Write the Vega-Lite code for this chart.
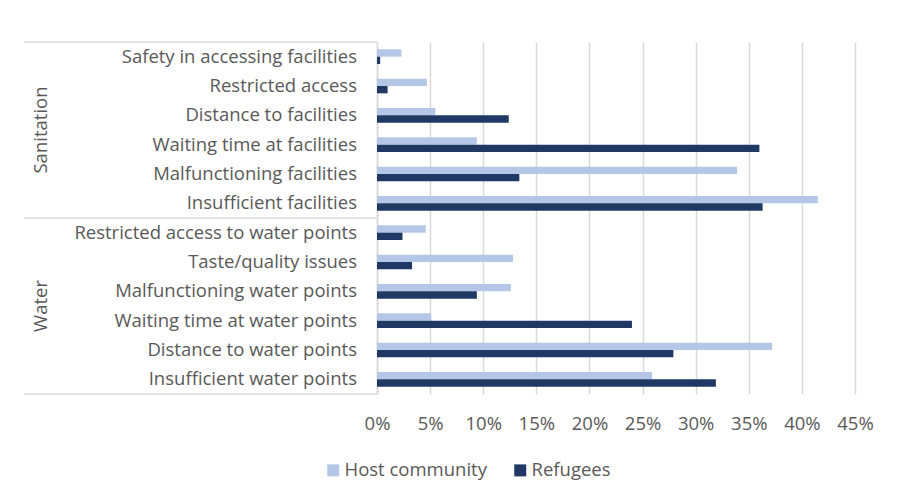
{
  "$schema": "https://vega.github.io/schema/vega-lite/v6.json",
  "padding": {"left": 23, "top": 41, "right": 0, "bottom": 0},
  "background": "white",
  "bounds": "flush",
  "spacing": 0,
  "config": {
    "font": "Open Sans",
    "view": {"stroke": null}
  },
  "datasets": {
    "bars": [
      {"group": "Sanitation", "category": "Safety in accessing facilities", "series": "Host community", "value": 0.023},
      {"group": "Sanitation", "category": "Safety in accessing facilities", "series": "Refugees", "value": 0.003},
      {"group": "Sanitation", "category": "Restricted access\u00a0", "series": "Host community", "value": 0.047},
      {"group": "Sanitation", "category": "Restricted access\u00a0", "series": "Refugees", "value": 0.010},
      {"group": "Sanitation", "category": "Distance to facilities", "series": "Host community", "value": 0.055},
      {"group": "Sanitation", "category": "Distance to facilities", "series": "Refugees", "value": 0.124},
      {"group": "Sanitation", "category": "Waiting time at facilities", "series": "Host community", "value": 0.094},
      {"group": "Sanitation", "category": "Waiting time at facilities", "series": "Refugees", "value": 0.360},
      {"group": "Sanitation", "category": "Malfunctioning facilities", "series": "Host community", "value": 0.339},
      {"group": "Sanitation", "category": "Malfunctioning facilities", "series": "Refugees", "value": 0.134},
      {"group": "Sanitation", "category": "Insufficient facilities", "series": "Host community", "value": 0.415},
      {"group": "Sanitation", "category": "Insufficient facilities", "series": "Refugees", "value": 0.363},
      {"group": "Water", "category": "Restricted access to water points", "series": "Host community", "value": 0.046},
      {"group": "Water", "category": "Restricted access to water points", "series": "Refugees", "value": 0.024},
      {"group": "Water", "category": "Taste/quality issues", "series": "Host community", "value": 0.128},
      {"group": "Water", "category": "Taste/quality issues", "series": "Refugees", "value": 0.033},
      {"group": "Water", "category": "Malfunctioning water points", "series": "Host community", "value": 0.126},
      {"group": "Water", "category": "Malfunctioning water points", "series": "Refugees", "value": 0.094},
      {"group": "Water", "category": "Waiting time at water points", "series": "Host community", "value": 0.051},
      {"group": "Water", "category": "Waiting time at water points", "series": "Refugees", "value": 0.240},
      {"group": "Water", "category": "Distance to water points", "series": "Host community", "value": 0.372},
      {"group": "Water", "category": "Distance to water points", "series": "Refugees", "value": 0.279},
      {"group": "Water", "category": "Insufficient water points", "series": "Host community", "value": 0.259},
      {"group": "Water", "category": "Insufficient water points", "series": "Refugees", "value": 0.319}
    ],
    "groups": [{"group": "Sanitation"}, {"group": "Water"}]
  },
  "hconcat": [
    {
      "width": 353,
      "height": 352,
      "layer": [
        {
          "data": {"name": "groups"},
          "mark": {"type": "rule", "color": "#d9d9d9", "strokeWidth": 1.5},
          "encoding": {
            "y": {"field": "group", "type": "nominal", "bandPosition": 0, "scale": {"type": "band", "domain": ["Sanitation", "Water"], "paddingInner": 0, "paddingOuter": 0}, "axis": null}
          }
        },
        {
          "data": {"name": "groups"},
          "transform": [{"filter": "datum.group === 'Water'"}],
          "mark": {"type": "rule", "color": "#d9d9d9", "strokeWidth": 1.5},
          "encoding": {
            "y": {"field": "group", "type": "nominal", "bandPosition": 1, "scale": {"type": "band", "domain": ["Sanitation", "Water"], "paddingInner": 0, "paddingOuter": 0}, "axis": null}
          }
        },
        {
          "data": {"name": "groups"},
          "mark": {"type": "text", "angle": 270, "align": "center", "baseline": "alphabetic", "dy": 23, "fontSize": 18.5, "color": "#595959", "font": "Open Sans"},
          "encoding": {
            "y": {"field": "group", "type": "nominal", "scale": {"type": "band", "domain": ["Sanitation", "Water"], "paddingInner": 0, "paddingOuter": 0}, "axis": null},
            "x": {"datum": 0, "type": "quantitative", "scale": {"domain": [0, 1]}, "axis": null},
            "text": {"field": "group"}
          }
        },
        {
          "data": {"name": "bars"},
          "transform": [{"filter": "datum.series === 'Host community'"}],
          "mark": {"type": "text", "align": "right", "baseline": "middle", "dx": -20, "fontSize": 18.5, "color": "#595959", "font": "Open Sans"},
          "encoding": {
            "y": {"field": "category", "type": "nominal", "scale": {"type": "band", "domain": ["Safety in accessing facilities", "Restricted access\u00a0", "Distance to facilities", "Waiting time at facilities", "Malfunctioning facilities", "Insufficient facilities", "Restricted access to water points", "Taste/quality issues", "Malfunctioning water points", "Waiting time at water points", "Distance to water points", "Insufficient water points"], "paddingInner": 0, "paddingOuter": 0}, "axis": null},
            "x": {"datum": 1, "type": "quantitative", "scale": {"domain": [0, 1]}, "axis": null},
            "text": {"field": "category"}
          }
        }
      ],
      "resolve": {"scale": {"y": "independent"}}
    },
    {
      "width": 478,
      "height": 352,
      "data": {"name": "bars"},
      "mark": {"type": "bar"},
      "encoding": {
        "y": {
          "field": "category", "type": "nominal",
          "scale": {"domain": ["Safety in accessing facilities", "Restricted access\u00a0", "Distance to facilities", "Waiting time at facilities", "Malfunctioning facilities", "Insufficient facilities", "Restricted access to water points", "Taste/quality issues", "Malfunctioning water points", "Waiting time at water points", "Distance to water points", "Insufficient water points"], "paddingInner": 0, "paddingOuter": 0},
          "axis": {"labels": false, "ticks": false, "title": null, "grid": false, "domainColor": "#d9d9d9", "domainWidth": 1.5}
        },
        "yOffset": {
          "field": "series", "type": "nominal",
          "scale": {"domain": ["Host community", "Refugees"], "paddingInner": 0, "paddingOuter": 1.14}
        },
        "x": {
          "field": "value", "type": "quantitative",
          "scale": {"domain": [0, 0.45], "nice": false},
          "axis": {"values": [0, 0.05, 0.1, 0.15, 0.2, 0.25, 0.3, 0.35, 0.4, 0.45], "format": ".0%", "title": null, "domain": false, "ticks": false, "grid": true, "gridColor": "#d9d9d9", "gridWidth": 1.5, "labelFont": "Open Sans", "labelFontSize": 18.5, "labelColor": "#595959", "labelPadding": 20, "labelOverlap": false, "labelFlush": false}
        },
        "color": {
          "field": "series", "type": "nominal",
          "scale": {"domain": ["Host community", "Refugees"], "range": ["#b4c7e7", "#203864"]},
          "legend": {"orient": "none", "legendX": 300, "legendY": 419, "direction": "horizontal", "title": null, "symbolType": "square", "symbolSize": 144, "symbolStrokeWidth": 0, "labelFont": "Open Sans", "labelFontSize": 18.5, "labelColor": "#595959", "columnPadding": 24, "labelOffset": 2, "padding": 0}
        }
      }
    }
  ]
}
